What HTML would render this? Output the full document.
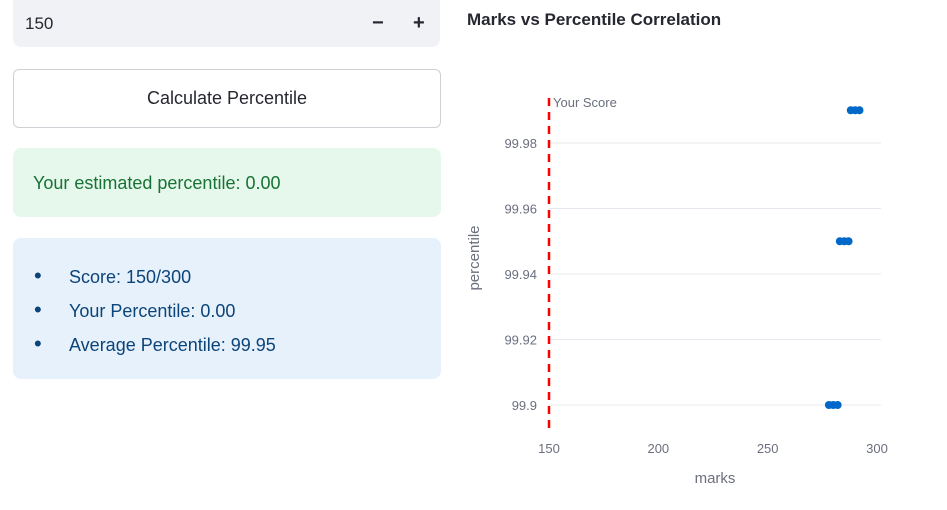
<!DOCTYPE html>
<html><head><meta charset="utf-8"><style>
body{margin:0;width:947px;height:510px;background:#fff;font-family:"Liberation Sans",sans-serif;position:relative;overflow:hidden}
.abs{position:absolute}
</style></head><body>
<div class="abs" style="left:13px;top:0;width:427px;height:47px;background:#f0f2f6;border-radius:0 0 8px 8px"></div>
<div class="abs" style="left:25px;top:14px;font-size:17px;color:#262730">150</div>
<div class="abs" style="left:372px;top:12px;font-size:20px;font-weight:bold;color:#262730">−</div>
<div class="abs" style="left:413px;top:12px;font-size:20px;font-weight:bold;color:#262730">+</div>
<div class="abs" style="left:13px;top:69px;width:426px;height:57px;border:1px solid #d0d0d6;border-radius:6px;text-align:center;line-height:57px;font-size:18px;color:#262730">Calculate Percentile</div>
<div class="abs" style="left:13px;top:148px;width:428px;height:69px;background:#e6f8ec;border-radius:8px"></div>
<div class="abs" style="left:33px;top:173px;font-size:18px;color:#177233">Your estimated percentile: 0.00</div>
<div class="abs" style="left:13px;top:238px;width:428px;height:141px;background:#e7f1fb;border-radius:8px"></div>
<div class="abs" style="left:34px;top:267px;font-size:18px;color:#0b4479"><span style="font-size:22px;line-height:18px">•</span><span style="position:absolute;left:35px;white-space:nowrap">Score: 150/300</span></div>
<div class="abs" style="left:34px;top:301px;font-size:18px;color:#0b4479"><span style="font-size:22px;line-height:18px">•</span><span style="position:absolute;left:35px;white-space:nowrap">Your Percentile: 0.00</span></div>
<div class="abs" style="left:34px;top:335px;font-size:18px;color:#0b4479"><span style="font-size:22px;line-height:18px">•</span><span style="position:absolute;left:35px;white-space:nowrap">Average Percentile: 99.95</span></div>
<div class="abs" style="left:467px;top:10px;font-size:17px;font-weight:bold;color:#262730">Marks vs Percentile Correlation</div>
<svg id="chart" class="abs" style="left:0;top:0" width="947" height="510"></svg>
<script>
const xTicks=[150,200,250,300];
const yTicks=[99.9,99.92,99.94,99.96,99.98];
const yTickLabels=["99.9","99.92","99.94","99.96","99.98"];
const marks=[278,280,282,283,285,287,288,290,292];
const percentiles=[99.9,99.9,99.9,99.95,99.95,99.95,99.99,99.99,99.99];
const yourScore=150;
const X=v=>549+(v-150)*328/150;
const Y=v=>405-(v-99.9)*262/0.08;
const svg=document.getElementById('chart');
const NS='http://www.w3.org/2000/svg';
function mk(t,a){const e=document.createElementNS(NS,t);for(const k in a)e.setAttribute(k,a[k]);svg.appendChild(e);return e;}
yTicks.forEach((v,i)=>{
 const l=mk('line',{x1:549,x2:881,y1:Y(v),y2:Y(v),stroke:'#e5e8ee','stroke-width':1});
 
 
 const t=mk('text',{x:537,y:Y(v)+5,'text-anchor':'end','font-size':13,fill:'#6b6f7e'});
 t.textContent=yTickLabels[i];
 
 
});
xTicks.forEach(v=>{
 const t=mk('text',{x:X(v),y:453,'text-anchor':'middle','font-size':13,fill:'#6b6f7e'});
 t.textContent=v;
 
 
});
marks.forEach((m,i)=>{
 const c=mk('circle',{cx:X(m),cy:Y(percentiles[i]),r:4,fill:'#0068c9'});
 
 
});
const rl=mk('line',{x1:X(yourScore),x2:X(yourScore),y1:98,y2:428,stroke:'#ff0000','stroke-width':2.5,'stroke-dasharray':'8,6'});


const ann=mk('text',{x:X(yourScore)+4,y:107,'font-size':13,fill:'#6b6f7e'});
ann.textContent='Your Score';


const xt=mk('text',{x:715,y:483,'text-anchor':'middle','font-size':15,fill:'#6b6f7e'});
xt.textContent='marks';


const yt=mk('text',{x:479,y:258,'text-anchor':'middle','font-size':15,fill:'#6b6f7e',transform:'rotate(-90 479 258)'});
yt.textContent='percentile';


</script>
</body></html>
